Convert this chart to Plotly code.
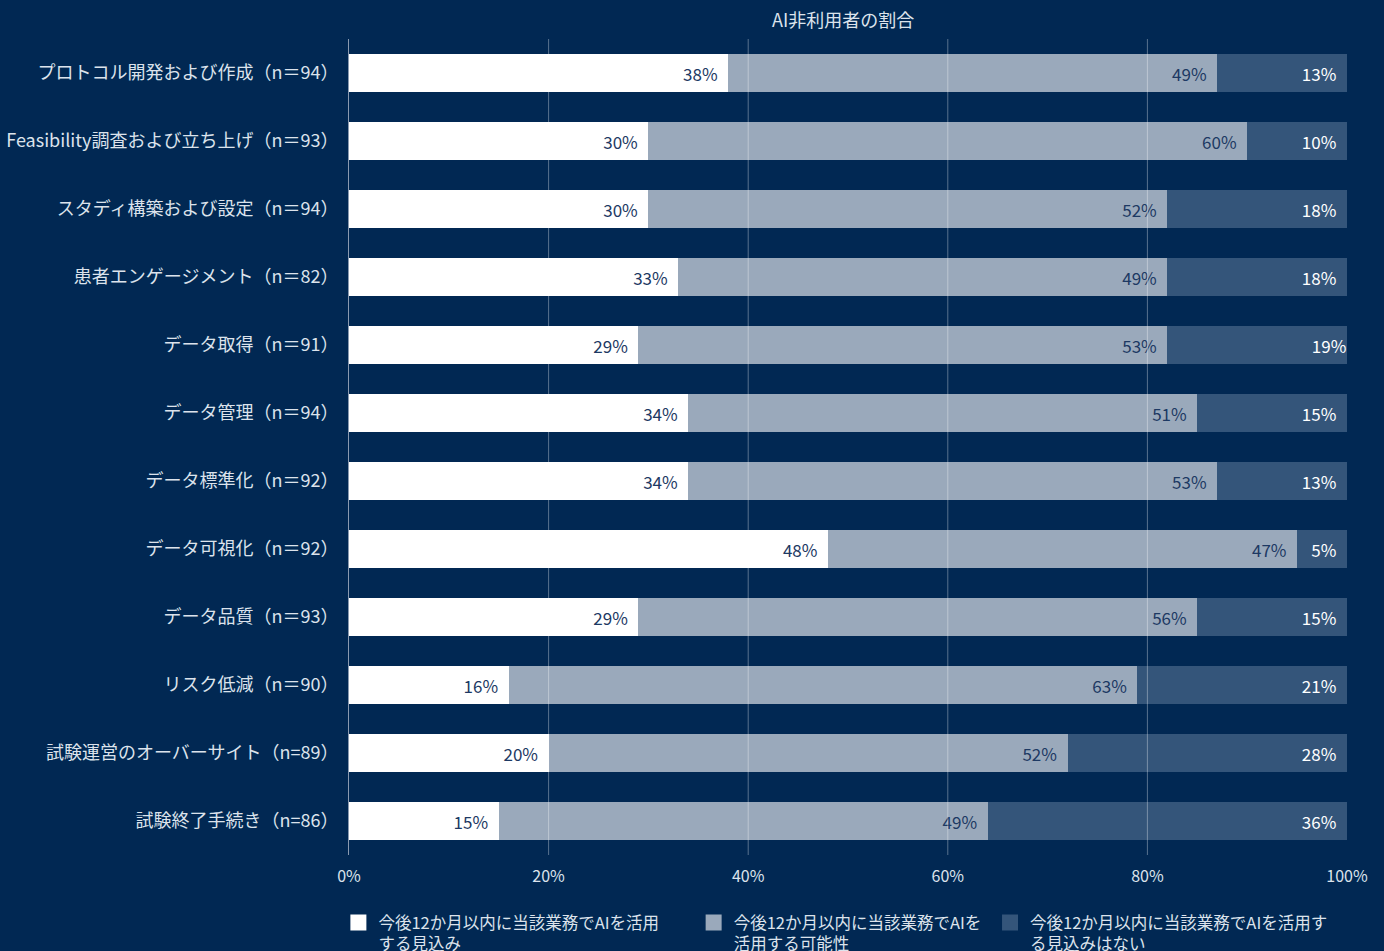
import plotly.graph_objects as go

categories = [
    "プロトコル開発および作成（n＝94）",
    "Feasibility調査および立ち上げ（n＝93）",
    "スタディ構築および設定（n＝94）",
    "患者エンゲージメント（n＝82）",
    "データ取得（n＝91）",
    "データ管理（n＝94）",
    "データ標準化（n＝92）",
    "データ可視化（n＝92）",
    "データ品質（n＝93）",
    "リスク低減（n＝90）",
    "試験運営のオーバーサイト（n=89）",
    "試験終了手続き（n=86）",
]
expect_use = [38, 30, 30, 33, 29, 34, 34, 48, 29, 16, 20, 15]
may_use = [49, 60, 52, 49, 53, 51, 53, 47, 56, 63, 52, 49]
no_use = [13, 10, 18, 18, 19, 15, 13, 5, 15, 21, 28, 36]

series_names = [
    "今後12か月以内に当該業務でAIを活用<br>する見込み",
    "今後12か月以内に当該業務でAIを<br>活用する可能性",
    "今後12か月以内に当該業務でAIを活用す<br>る見込みはない",
]
legend_pad = [8, 1, 0]  # trailing spacing after each legend entry
tick_values = [0, 20, 40, 60, 80, 100]
tick_labels = ["0%", "20%", "40%", "60%", "80%", "100%"]
grid_values = [20, 40, 60, 80]
title_text = "AI非利用者の割合"

BG = "#012853"
FONT = "Noto Sans CJK JP"
LIGHT = "#dce3ec"
colors = ["#ffffff", "#9aa9bb", "#34557a"]
text_colors = ["#1d3963", "#1d3963", "#ffffff"]

fig = go.Figure()
for name, vals, col, tcol in zip(series_names, [expect_use, may_use, no_use], colors, text_colors):
    fig.add_trace(go.Bar(
        y=categories, x=vals, name=name, orientation="h",
        marker=dict(color=col, line=dict(width=0)),
        width=0.55,
        texttemplate="%{x:.0f}%\u00a0\u00a0",
        textposition="inside", insidetextanchor="end",
        textfont=dict(color=tcol, size=17, family=FONT),
        hoverinfo="skip", showlegend=False,
    ))

# legend entries with larger square swatches
for name, col, pad in zip(series_names, colors, legend_pad):
    first, second = name.split("<br>")
    label = first + "\u00a0" * pad + "<br>" + second
    fig.add_trace(go.Scatter(
        x=[None], y=[None], mode="markers", name=label,
        marker=dict(symbol="square", size=19, color=col, line=dict(width=0)),
        showlegend=True, hoverinfo="skip",
    ))

for g in grid_values:
    fig.add_shape(type="line", xref="x", yref="paper", x0=g, x1=g, y0=0, y1=1,
                  line=dict(color="rgba(255,255,255,0.35)", width=1), layer="above")

fig.add_annotation(text=title_text, xref="paper", yref="paper", x=0.495, y=1,
                   yshift=20, yanchor="middle", showarrow=False,
                   font=dict(size=18, color=LIGHT, family=FONT))

fig.update_layout(
    barmode="stack",
    width=1384, height=951,
    paper_bgcolor=BG, plot_bgcolor=BG,
    margin=dict(l=349, r=37, t=39, b=96, pad=0, autoexpand=False),
    font=dict(family=FONT, color=LIGHT, size=16),
    xaxis=dict(range=[0, 100], tickvals=tick_values, ticktext=tick_labels,
               showgrid=False, zeroline=False, showline=False,
               tickfont=dict(size=16, color=LIGHT), ticks="", ticklabelstandoff=10,
               fixedrange=True),
    yaxis=dict(categoryorder="array", categoryarray=categories, autorange="reversed",
               showline=True, linecolor="#8a9ab0", linewidth=1,
               showgrid=False, ticks="", ticklabelstandoff=6,
               tickfont=dict(size=18, color=LIGHT)),
    legend=dict(orientation="h", xref="container", x=0.2445, xanchor="left",
                yref="container", y=0.048, yanchor="top",
                font=dict(size=16.5, color=LIGHT, family=FONT),
                valign="top", itemsizing="trace", traceorder="normal",
                bgcolor="rgba(0,0,0,0)"),
    showlegend=True,
)

fig.write_html("out.html", config={"displayModeBar": False},
               post_script="document.body.style.margin='0';")
